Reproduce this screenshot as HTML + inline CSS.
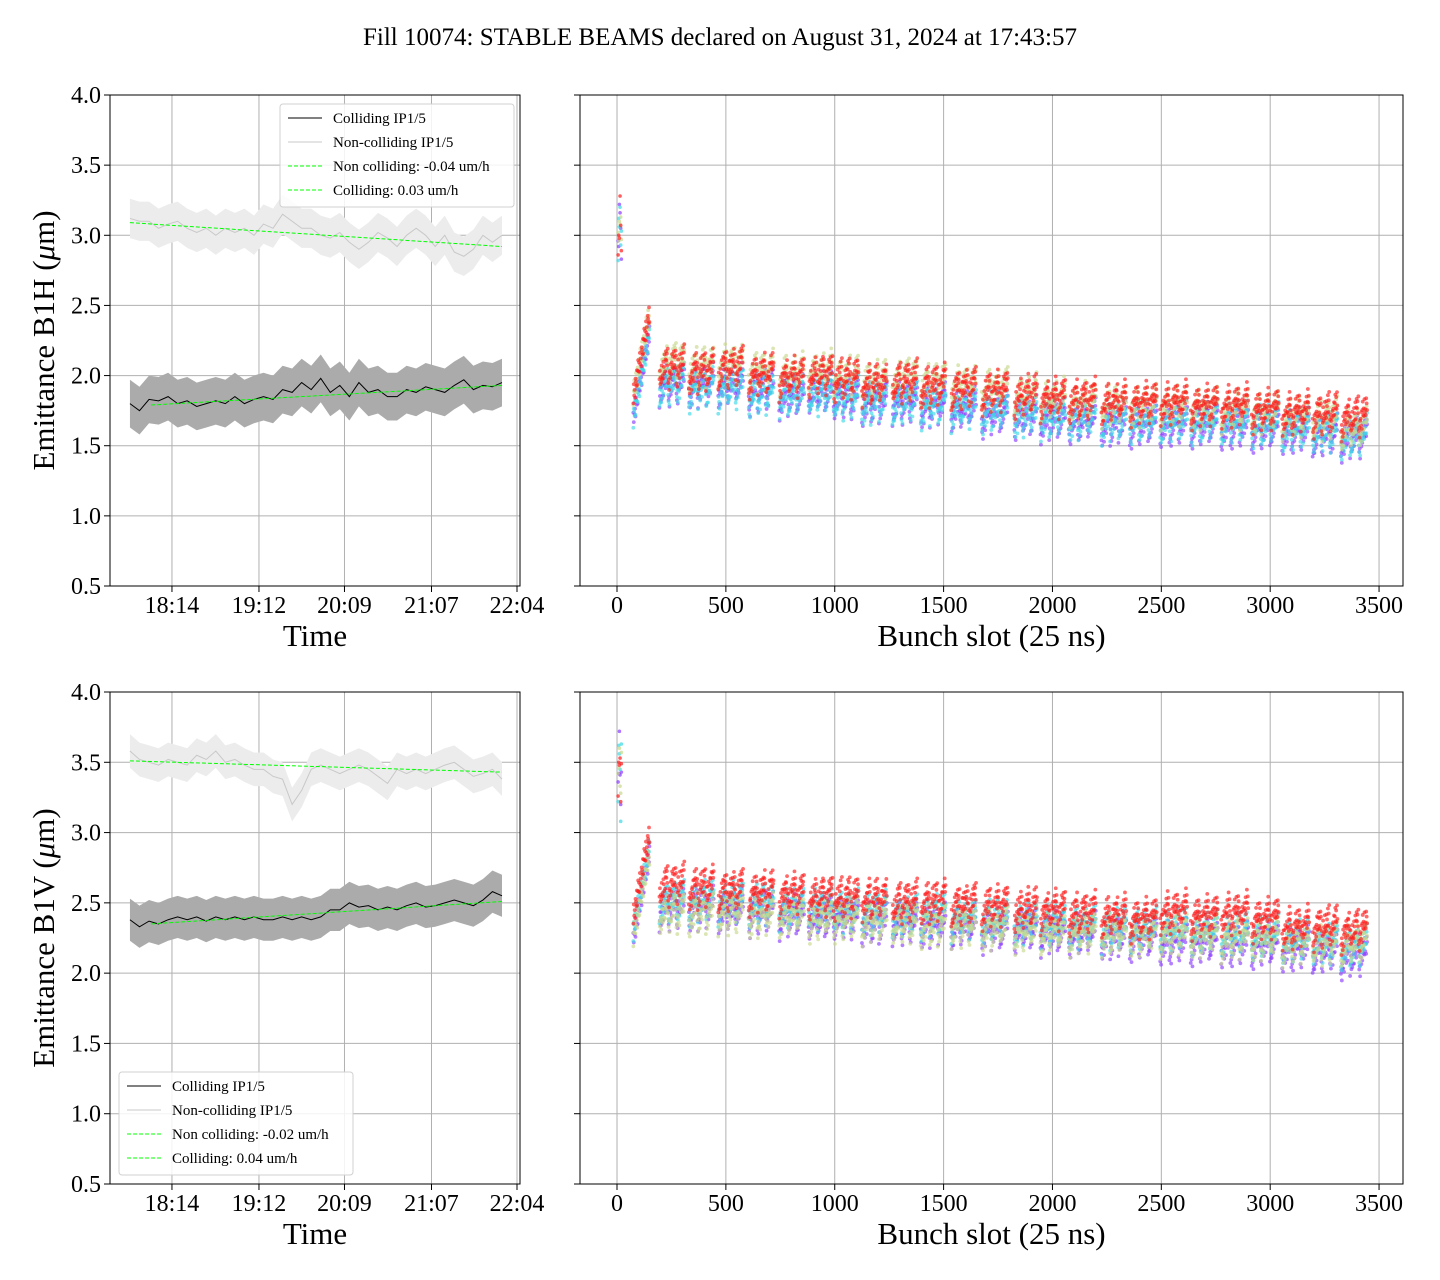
<!DOCTYPE html>
<html><head><meta charset="utf-8"><style>
html,body{margin:0;padding:0;background:#fff;}
svg, svg text{font-family:"Liberation Serif",serif;}
svg{display:block;}
</style></head><body>
<svg id="fig" width="1440" height="1280" viewBox="0 0 1440 1280" xmlns="http://www.w3.org/2000/svg" font-family="Liberation Serif, serif">
<text x="720" y="45" text-anchor="middle" font-size="25">Fill 10074: STABLE BEAMS declared on August 31, 2024 at 17:43:57</text>
<g id="root" font-family="Liberation Serif, serif"></g>
</svg>
<script>
// ---- data ----
const timeTickLabels = ["18:14","19:12","20:09","21:07","22:04"];
const timeTickMinutes = [1094,1152,1209,1267,1324];
const yTicks = [0.5,1.0,1.5,2.0,2.5,3.0,3.5,4.0];
const slotTicks = [0,500,1000,1500,2000,2500,3000,3500];
const tStart = 1066, tEnd = 1314;

const hColl = [1.80,1.75,1.83,1.82,1.85,1.80,1.82,1.78,1.80,1.82,1.80,1.85,1.80,1.83,1.85,1.83,1.90,1.88,1.95,1.90,1.98,1.88,1.93,1.85,1.95,1.88,1.90,1.85,1.85,1.90,1.88,1.92,1.90,1.88,1.93,1.97,1.90,1.93,1.92,1.95];
const hNon = [3.12,3.10,3.10,3.05,3.08,3.10,3.05,3.02,3.05,3.00,3.05,3.02,3.05,3.00,3.08,3.05,3.15,3.10,3.05,3.05,3.00,2.98,3.02,2.95,2.90,2.95,3.02,2.98,2.92,3.00,3.05,3.00,2.92,3.00,2.88,2.85,2.90,3.00,2.95,3.00];
const hFitNon = [3.09,2.92];
const hFitColl = [1.79,1.93];
const vColl = [2.38,2.33,2.37,2.35,2.38,2.40,2.38,2.40,2.37,2.40,2.38,2.40,2.38,2.40,2.38,2.38,2.40,2.38,2.40,2.38,2.40,2.45,2.45,2.50,2.47,2.48,2.45,2.47,2.45,2.48,2.50,2.47,2.48,2.50,2.52,2.50,2.48,2.52,2.58,2.55];
const vNon = [3.58,3.52,3.50,3.48,3.52,3.50,3.48,3.55,3.52,3.58,3.50,3.52,3.48,3.45,3.45,3.40,3.38,3.20,3.30,3.45,3.48,3.45,3.42,3.45,3.48,3.45,3.40,3.35,3.45,3.42,3.45,3.42,3.45,3.48,3.50,3.45,3.40,3.42,3.45,3.38];
const vFitNon = [3.51,3.43];
const vFitColl = [2.35,2.51];

const trainStarts = [75,195,330,465,605,745,880,995,1125,1265,1395,1535,1675,1825,1945,2075,2225,2355,2495,2635,2775,2915,3055,3195,3325];
const trainWidth = [75,115,115,115,115,115,110,115,115,115,115,115,120,105,115,125,115,125,125,125,125,125,125,115,120];
const hRed   = [2.15,2.05,2.02,2.05,2.0,1.98,2.0,1.97,1.93,1.95,1.92,1.9,1.88,1.85,1.83,1.82,1.8,1.8,1.8,1.78,1.78,1.75,1.73,1.72,1.7];
const hKhaki = [2.15,2.08,2.05,2.07,2.02,2.0,2.02,1.98,1.95,1.97,1.93,1.92,1.9,1.85,1.82,1.8,1.78,1.78,1.78,1.76,1.75,1.73,1.7,1.68,1.62];
const hCyan  = [2.0,1.93,1.9,1.9,1.86,1.85,1.86,1.83,1.8,1.8,1.78,1.76,1.74,1.71,1.69,1.69,1.67,1.67,1.67,1.66,1.66,1.64,1.61,1.59,1.56];
const hPurple= [2.0,1.93,1.92,1.92,1.88,1.85,1.87,1.83,1.8,1.8,1.78,1.75,1.72,1.7,1.68,1.67,1.65,1.65,1.65,1.65,1.63,1.62,1.6,1.57,1.55];
const vRed   = [2.7,2.62,2.6,2.58,2.57,2.56,2.54,2.53,2.52,2.5,2.5,2.48,2.47,2.45,2.44,2.42,2.4,2.38,2.43,2.4,2.42,2.38,2.32,2.32,2.3];
const vKhaki = [2.55,2.42,2.42,2.42,2.4,2.4,2.38,2.38,2.36,2.35,2.33,2.33,2.31,2.3,2.28,2.28,2.27,2.27,2.27,2.26,2.24,2.24,2.21,2.2,2.2];
const vCyan  = [2.6,2.5,2.5,2.5,2.48,2.45,2.45,2.43,2.42,2.4,2.4,2.38,2.37,2.35,2.33,2.32,2.3,2.3,2.3,2.28,2.27,2.25,2.22,2.2,2.18];
const vPurple= [2.55,2.45,2.45,2.43,2.42,2.4,2.38,2.38,2.35,2.35,2.33,2.32,2.3,2.3,2.28,2.27,2.25,2.25,2.22,2.22,2.2,2.2,2.17,2.15,2.12];
const pilotSlots = [5,8,11,14,17,20];
const hPilot = [2.9,3.0,3.1,3.2,3.05,2.95];
const vPilot = [3.3,3.5,3.6,3.45,3.2,3.55];
const batchShape = [-0.1,-0.05,0.0,0.04,0.07,-0.08,-0.03,0.02,0.05,0.08,-0.07,-0.02,0.03,0.06,0.09];
const jitter = [0.03,-0.04,0.06,-0.02,0.0,-0.06,0.04,0.01,-0.03,0.05,-0.05,0.02,0.07,-0.01];

// ---- drawing ----
const NS="http://www.w3.org/2000/svg";
const root=document.getElementById('root');
function el(tag,attrs,parent){const e=document.createElementNS(NS,tag);for(const k in attrs)e.setAttribute(k,attrs[k]);(parent||root).appendChild(e);return e;}

function panel(x0,x1,y0,y1,xmin,xmax,name){
  const g=el('g',{});
  
  
  const sx=v=>x0+(v-xmin)/(xmax-xmin)*(x1-x0);
  const sy=v=>y1-(v-0.5)/(4.0-0.5)*(y1-y0);
  return {g,sx,sy,x0,x1,y0,y1};
}
function frame(p,xticks,xlabels,xtitle,ytitle,showYLabels){
  const grid=el('g',{},p.g);
  
  
  xticks.forEach((t,i)=>{const x=p.sx(t);el('line',{x1:x,x2:x,y1:p.y0,y2:p.y1,stroke:'#b0b0b0','stroke-width':1},grid);
    el('line',{x1:x,x2:x,y1:p.y1,y2:p.y1+6,stroke:'#000','stroke-width':1},p.g);
    const tx=el('text',{x:x,y:p.y1+27,'text-anchor':'middle','font-size':24},p.g);tx.textContent=xlabels[i];
    
    });
  yTicks.forEach(t=>{const y=p.sy(t);el('line',{x1:p.x0,x2:p.x1,y1:y,y2:y,stroke:'#b0b0b0','stroke-width':1},grid);
    el('line',{x1:p.x0-6,x2:p.x0,y1:y,y2:y,stroke:'#000','stroke-width':1},p.g);
    if(showYLabels){const tx=el('text',{x:p.x0-9,y:y+8,'text-anchor':'end','font-size':24},p.g);tx.textContent=t.toFixed(1);
    
    }});
  const xt=el('text',{x:(p.x0+p.x1)/2,y:p.y1+60,'text-anchor':'middle','font-size':31},p.g);xt.textContent=xtitle;
  
  
  if(ytitle){const yt=el('text',{x:0,y:0,'text-anchor':'middle','font-size':31,transform:`translate(54,${(p.y0+p.y1)/2}) rotate(-90)`},p.g);
    yt.innerHTML=ytitle;
    
    }
}
function border(p){const r=el('rect',{x:p.x0,y:p.y0,width:p.x1-p.x0,height:p.y1-p.y0,fill:'none',stroke:'#000','stroke-width':1},p.g);
  
  }

function timePanel(y0,y1,coll,non,fitNon,fitColl,collBand,nonBand,ytitle,legX,legY,legNon,legColl,name){
  const p=panel(110,520,y0,y1,1052.7,1326,name);
  frame(p,timeTickMinutes,timeTickLabels,'Time',ytitle,true);
  const tx=i=>p.sx(tStart+(tEnd-tStart)*i/(coll.length-1));
  function band(arr,w,fill,nm){let up=arr.map((v,i)=>`${tx(i)},${p.sy(v+w)}`);let dn=arr.map((v,i)=>`${tx(i)},${p.sy(v-w)}`).reverse();
    const b=el('polygon',{points:up.concat(dn).join(' '),fill:fill,stroke:'none'},p.g);
    
    }
  band(non,nonBand,'#ececec','noncolliding-band');
  band(coll,collBand,'#ababab','colliding-band');
  const ln=el('polyline',{points:non.map((v,i)=>`${tx(i)},${p.sy(v)}`).join(' '),fill:'none',stroke:'#c8c8c8','stroke-width':1},p.g);
  
  
  const lc=el('polyline',{points:coll.map((v,i)=>`${tx(i)},${p.sy(v)}`).join(' '),fill:'none',stroke:'#000','stroke-width':1},p.g);
  
  
  const f1=el('line',{x1:tx(0),x2:tx(coll.length-1),y1:p.sy(fitNon[0]),y2:p.sy(fitNon[1]),stroke:'#00ff00','stroke-width':1,'stroke-dasharray':'4,2'},p.g);
  
  
  const f2=el('line',{x1:p.sx(1080),x2:tx(coll.length-1),y1:p.sy(fitColl[0]),y2:p.sy(fitColl[1]),stroke:'#00ff00','stroke-width':1,'stroke-dasharray':'4,2'},p.g);
  
  
  border(p);
  const lg=el('g',{},p.g);
  
  
  el('rect',{x:legX,y:legY,width:234,height:103,rx:3,fill:'#fff','fill-opacity':0.85,stroke:'#d0d0d0'},lg);
  const items=[['Colliding IP1/5','#000',''],['Non-colliding IP1/5','#c8c8c8',''],[legNon,'#00ff00','4,2'],[legColl,'#00ff00','4,2']];
  items.forEach((it,i)=>{const y=legY+14+i*24;
    const ent=el('g',{},lg);
    
    
    el('line',{x1:legX+8,x2:legX+42,y1:y,y2:y,stroke:it[1],'stroke-width':1,'stroke-dasharray':it[2]},ent);
    const t=el('text',{x:legX+53,y:y+5,'font-size':15},ent);t.textContent=it[0];});
}

function scatterPanel(y0,y1,series,pilot,name){
  const p=panel(580,1403,y0,y1,-170,3610,name);
  frame(p,slotTicks,slotTicks.map(String),'Bunch slot (25 ns)',null,false);
  const cols=['#8a3cff','#3cd8e6','#c8d88c','#ff1a1a'];
  const names=['series-purple','series-cyan','series-khaki','series-red'];
  series.forEach((arr,si)=>{
    const g=el('g',{},p.g);
    
    
    let k=si*5;
    pilot.forEach((v,i)=>{el('circle',{cx:p.sx(pilotSlots[i]),cy:p.sy(v+jitter[(i+si)%jitter.length]*2),r:1.8,fill:cols[si],'fill-opacity':0.7},g);});
    trainStarts.forEach((s,ti)=>{
      const w=trainWidth[ti];
      for(let d=0; d<=w; d+=2){
        const bi=Math.floor(d/w*(batchShape.length-0.01));
        const shape=ti===0?(d/w-0.5)*0.6:batchShape[bi];
        const v=arr[ti]+shape+jitter[k%jitter.length]*1.2;k++;
        el('circle',{cx:p.sx(s+d),cy:p.sy(v),r:1.9,fill:cols[si],'fill-opacity':0.65},g);
      }
    });
  });
  border(p);
}

timePanel(95,586,hColl,hNon,hFitNon,hFitColl,0.17,0.14,'Emittance B1H (<tspan font-style="italic">μ</tspan>m)',280,104,'Non colliding: -0.04 um/h','Colliding: 0.03 um/h','panel-b1h-time');
scatterPanel(95,586,[hPurple,hCyan,hKhaki,hRed],hPilot,'panel-b1h-bunch');
timePanel(692,1184,vColl,vNon,vFitNon,vFitColl,0.15,0.12,'Emittance B1V (<tspan font-style="italic">μ</tspan>m)',119,1072,'Non colliding: -0.02 um/h','Colliding: 0.04 um/h','panel-b1v-time');
scatterPanel(692,1184,[vPurple,vCyan,vKhaki,vRed],vPilot,'panel-b1v-bunch');
</script>
</body></html>
